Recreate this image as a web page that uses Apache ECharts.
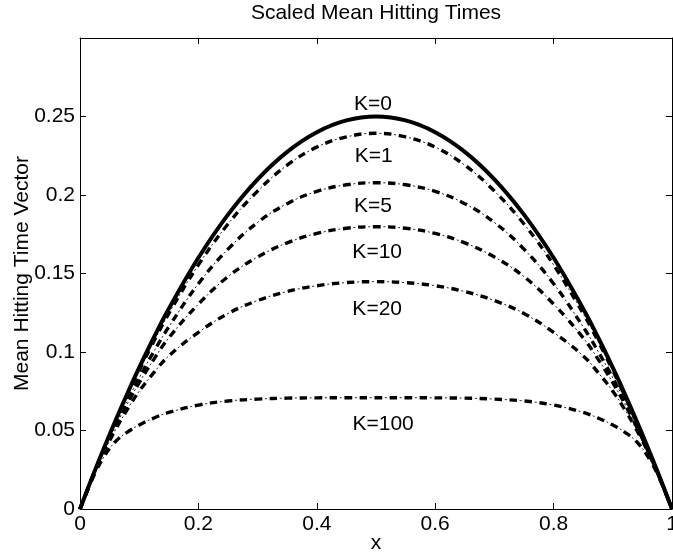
<!DOCTYPE html>
<html>
<head>
<meta charset="utf-8">
<script src="https://cdn.jsdelivr.net/npm/echarts@6/dist/echarts.min.js"></script>
<style>
html,body{margin:0;padding:0;background:#fff;}
#chart{width:673px;height:558px;}
</style>
</head>
<body>
<div id="chart"></div>
<script>
// ---- data ----
const xValues = [0,0.02,0.04,0.06,0.08,0.1,0.125,0.15,0.2,0.25,0.3,0.35,0.4,0.45,0.5,0.55,0.6,0.65,0.7,0.75,0.8,0.85,0.875,0.9,0.92,0.94,0.96,0.98,1];
const k0   = [0,0.0196,0.0384,0.0564,0.0736,0.09,0.1094,0.1275,0.16,0.1875,0.21,0.2275,0.24,0.2475,0.25,0.2475,0.24,0.2275,0.21,0.1875,0.16,0.1275,0.1094,0.09,0.0736,0.0564,0.0384,0.0196,0];
const k1   = [0,0.0193,0.0378,0.0554,0.0722,0.0882,0.107,0.1245,0.1555,0.1815,0.2025,0.219,0.2305,0.237,0.2393,0.237,0.2305,0.219,0.2025,0.1815,0.1555,0.1245,0.107,0.0882,0.0722,0.0554,0.0378,0.0193,0];
const k5   = [0,0.019,0.0368,0.0535,0.069,0.0835,0.1005,0.116,0.1435,0.1655,0.1825,0.1945,0.2023,0.2065,0.2078,0.2065,0.2023,0.1945,0.1825,0.1655,0.1435,0.116,0.1005,0.0835,0.069,0.0535,0.0368,0.019,0];
const k10  = [0,0.0191,0.0365,0.0525,0.067,0.0805,0.0955,0.109,0.1305,0.148,0.1605,0.1695,0.1755,0.1788,0.1798,0.1788,0.1755,0.1695,0.1605,0.148,0.1305,0.109,0.0955,0.0805,0.067,0.0525,0.0365,0.0191,0];
const k20  = [0,0.019,0.0358,0.0505,0.0635,0.075,0.087,0.0975,0.1125,0.1245,0.1328,0.1385,0.1422,0.1442,0.1448,0.1442,0.1422,0.1385,0.1328,0.1245,0.1125,0.0975,0.087,0.075,0.0635,0.0505,0.0358,0.019,0];
const k100 = [0,0.0185,0.033,0.043,0.049,0.0535,0.058,0.0615,0.0662,0.0688,0.07,0.0706,0.0708,0.0709,0.0709,0.0709,0.0708,0.0706,0.07,0.0688,0.0662,0.0615,0.058,0.0535,0.049,0.043,0.033,0.0185,0];

const curveNames = ['K=0','K=1','K=5','K=10','K=20','K=100'];
// text annotations (data coordinates), like MATLAB text(x,y,...)
const annotX = [0.495,0.496,0.495,0.502,0.502,0.512];
const annotY = [0.2578,0.2248,0.193,0.1636,0.1272,0.054];

const xTicks = [0,0.2,0.4,0.6,0.8,1];
const xTickLabels = ['0','0.2','0.4','0.6','0.8','1'];
const yTicks = [0,0.05,0.1,0.15,0.2,0.25,0.3];
const yTickLabels = ['0','0.05','0.1','0.15','0.2','0.25',''];

const titleText = 'Scaled Mean Hitting Times';
const xName = 'x';
const yName = 'Mean Hitting Time Vector';

// ---- chart ----
const FONT = 'Liberation Sans, Arial, Helvetica, sans-serif';
const FS = 21;
const pair = (ys) => xValues.map((x, i) => [x, ys[i]]);
function labelFor(list, labels) {
  return (v) => {
    for (let i = 0; i < list.length; i++) if (Math.abs(list[i] - v) < 1e-9) return labels[i];
    return '';
  };
}

const chart = echarts.init(document.getElementById('chart'), null, {renderer: 'canvas'});

const axisCommon = {
  type: 'value',
  axisLine: {show: true, onZero: false, lineStyle: {color: '#000', width: 1}},
  axisTick: {show: true, inside: true, length: 6, lineStyle: {color: '#000', width: 1}},
  splitLine: {show: false}
};

const series = [];
const dashed = [k1, k5, k10, k20, k100];
dashed.forEach((ys, i) => {
  series.push({
    type: 'line', name: curveNames[i + 1] + ' dash', data: pair(ys), showSymbol: false, symbol: 'none',
    smooth: 0.4, silent: true, z: 3,
    lineStyle: {color: '#000', width: 3.4, type: [7.5, 7.5], dashOffset: 0, cap: 'butt'}
  });
  series.push({
    type: 'line', name: curveNames[i + 1] + ' dot', data: pair(ys), showSymbol: false, symbol: 'none',
    smooth: 0.4, silent: true, z: 3,
    lineStyle: {color: '#222', width: 1, type: [2, 13], dashOffset: 4.75, cap: 'butt'}
  });
});
series.push({
  type: 'line', name: curveNames[0], data: pair(k0), showSymbol: false, symbol: 'none',
  smooth: 0.4, silent: true, z: 4,
  lineStyle: {color: '#000', width: 4, type: 'solid'}
});
series.push({
  type: 'scatter', name: 'labels', symbolSize: 0, silent: true, z: 5,
  itemStyle: {opacity: 1},
  data: curveNames.map((n, i) => ({name: n, value: [annotX[i], annotY[i]]})),
  label: {show: true, position: 'inside', formatter: '{b}', color: '#000', opacity: 1,
          textBorderWidth: 0, fontSize: FS, fontFamily: FONT}
});

chart.setOption({
  animation: false,
  backgroundColor: '#fff',
  title: {
    text: titleText, left: 376, top: 3, padding: 0, textAlign: 'center',
    textStyle: {color: '#000', fontSize: FS, fontWeight: 'normal', fontFamily: FONT}
  },
  grid: {left: 80, right: 1, top: 38, bottom: 49, containLabel: false, outerBoundsMode: 'none'},
  xAxis: [
    Object.assign({}, axisCommon, {
      position: 'bottom', min: 0, max: 1, interval: 0.2,
      name: xName, nameLocation: 'middle', nameGap: 24, nameMoveOverlap: false,
      nameTextStyle: {color: '#000', fontSize: FS, fontFamily: FONT},
      axisLabel: {show: true, color: '#000', fontSize: FS, fontFamily: FONT, margin: 5, formatter: labelFor(xTicks, xTickLabels)}
    }),
    Object.assign({}, axisCommon, {
      position: 'top', min: 0, max: 1, interval: 0.2, axisLabel: {show: false}
    })
  ],
  yAxis: [
    Object.assign({}, axisCommon, {
      position: 'left', min: 0, max: 0.3, interval: 0.05,
      name: yName, nameLocation: 'middle', nameGap: 47, nameRotate: 90, nameMoveOverlap: false,
      nameTextStyle: {color: '#000', fontSize: FS, fontFamily: FONT},
      axisLabel: {show: true, color: '#000', fontSize: FS, fontFamily: FONT, margin: 5, formatter: labelFor(yTicks, yTickLabels)}
    }),
    Object.assign({}, axisCommon, {
      position: 'right', min: 0, max: 0.3, interval: 0.05, axisLabel: {show: false}
    })
  ],
  series: series
});
</script>
</body>
</html>
